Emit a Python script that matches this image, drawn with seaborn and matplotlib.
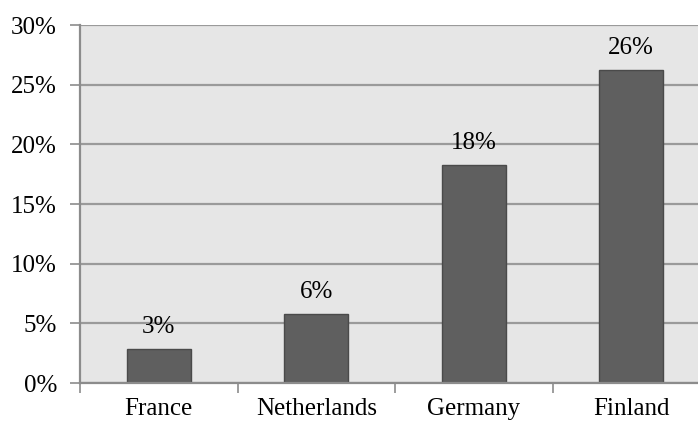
import matplotlib
matplotlib.use("Agg")
import matplotlib.pyplot as plt
import seaborn as sns
import pandas as pd
from matplotlib.ticker import FuncFormatter, FixedLocator

countries = ["France", "Netherlands", "Germany", "Finland"]
shares = [2.85, 5.8, 18.3, 26.2]
y_ticks = [0, 5, 10, 15, 20, 25, 30]

df = pd.DataFrame({"country": countries, "share": shares})

sns.set_theme(style="white")
plt.rcParams["font.family"] = ["Liberation Serif", "DejaVu Serif"]

FS = 18

fig = plt.figure(figsize=(6.98, 4.21), dpi=100)
ax = fig.add_axes([80 / 698, 1 - 383 / 421, 630 / 698, 358 / 421])
ax.set_facecolor("#e6e6e6")

sns.barplot(data=df, x="country", y="share", ax=ax, color="#5f5f5f",
            width=0.405, edgecolor="#4a4a4a", linewidth=1.0, saturation=1)

ax.set_ylim(0, 30)
ax.set_xlim(-0.5, 3.5)
ax.yaxis.set_major_locator(FixedLocator(y_ticks))
ax.yaxis.set_major_formatter(FuncFormatter(lambda v, p: f"{v:.0f}%"))
ax.grid(axis="y", color="#9a9a9a", linewidth=1.6)
ax.set_axisbelow(True)

# ticks at category boundaries on x
ax.set_xticks([-0.5, 0.5, 1.5, 2.5, 3.5], minor=False)
ax.set_xticklabels([])
ax.set_xticks(range(len(countries)), minor=True)
ax.set_xticklabels(countries, minor=True)
ax.tick_params(axis="x", which="major", direction="out", length=7, width=1.2,
               color="#8c8c8c", bottom=True)
ax.tick_params(axis="x", which="minor", length=0, pad=11, labelsize=FS,
               labelcolor="black")
ax.tick_params(axis="y", direction="out", length=7, width=1.2, color="#8c8c8c",
               left=True, pad=9.5, labelsize=FS, labelcolor="black")

for side in ["top", "right"]:
    ax.spines[side].set_visible(False)
for side in ["left", "bottom"]:
    ax.spines[side].set_color("#8c8c8c")
    ax.spines[side].set_linewidth(1.6)

ax.set_xlabel("")
ax.set_ylabel("")

for i, v in enumerate(shares):
    ax.annotate(f"{v:.0f}%", (i, v), xytext=(0, 11.5), textcoords="offset points",
                ha="center", va="baseline", fontsize=FS, color="black")

fig.savefig("out.png", dpi=100)
